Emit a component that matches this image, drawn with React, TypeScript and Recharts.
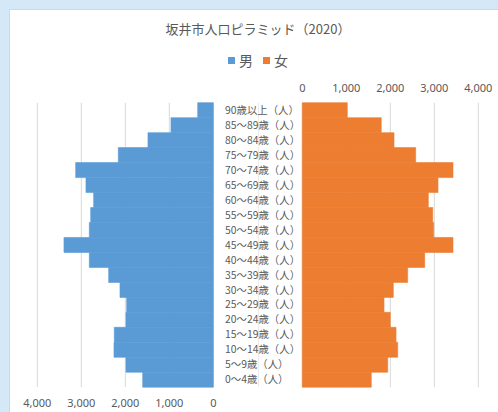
import React from "react";
import { BarChart, Bar, XAxis, YAxis, CartesianGrid } from "recharts";

// 年齢階級（上から90歳以上 → 0～4歳）
const ageGroups = [
  "90歳以上（人）",
  "85～89歳（人）",
  "80～84歳（人）",
  "75～79歳（人）",
  "70～74歳（人）",
  "65～69歳（人）",
  "60～64歳（人）",
  "55～59歳（人）",
  "50～54歳（人）",
  "45～49歳（人）",
  "40～44歳（人）",
  "35～39歳（人）",
  "30～34歳（人）",
  "25～29歳（人）",
  "20～24歳（人）",
  "15～19歳（人）",
  "10～14歳（人）",
  "5～9歳（人）",
  "0～4歳（人）",
];

const male = [
  355, 962, 1485, 2159, 3128, 2894, 2719, 2787, 2818, 3394, 2818, 2378, 2121,
  1969, 1985, 2250, 2257, 1985, 1605,
];

const female = [
  1023, 1795, 2084, 2577, 3425, 3084, 2864, 2964, 2986, 3425, 2782, 2395, 2068,
  1857, 2000, 2130, 2168, 1941, 1568,
];

const axisTicks = [0, 1000, 2000, 3000, 4000];

const data = ageGroups.map((age, i) => ({ age, male: male[i], female: female[i] }));

const W = 498;
const H = 412;
const TOP = 102.7;
const BOTTOM = 387.2;
const TEXT = "#595959";
const GRID = "#D9D9D9";
const BLUE = "#5B9BD5";
const ORANGE = "#ED7D31";
const FONT = "'Noto Sans CJK JP', 'Noto Sans', sans-serif";

const fmt = (v: number) => v.toLocaleString("en-US");

// 中央の年齢ラベル（左揃え）
const renderAgeTick = (props: any) => {
  const { y, payload } = props;
  return (
    <text
      key={payload.value}
      x={225}
      y={y}
      dy="0.35em"
      textAnchor="start"
      fill={TEXT}
      fontSize={10.4}
      fontFamily={FONT}
    >
      {payload.value}
    </text>
  );
};

export default function App() {
  return (
    <div
      style={{
        position: "fixed",
        left: 0,
        top: 0,
        width: W,
        height: H,
        background: "#D5E8F8",
        overflow: "hidden",
        fontFamily: FONT,
      }}
    >
      <div
        style={{
          position: "absolute",
          left: 9,
          top: 9,
          width: W,
          height: H,
          background: "#fff",
          borderLeft: "1px solid #C9D9E8",
          borderTop: "1px solid #C9D9E8",
        }}
      />
      <div
        style={{
          position: "absolute",
          left: 0,
          width: 516,
          top: 19,
          textAlign: "center",
          fontSize: 13,
          color: TEXT,
        }}
      >
        坂井市人口ピラミッド（2020）
      </div>
      <div
        style={{
          position: "absolute",
          left: 0,
          width: 516,
          top: 50,
          display: "flex",
          justifyContent: "center",
          alignItems: "center",
          fontSize: 14,
          color: TEXT,
        }}
      >
        <span style={{ width: 7, height: 7, background: BLUE, marginRight: 4 }} />
        <span style={{ marginRight: 10 }}>男</span>
        <span style={{ width: 7, height: 7, background: ORANGE, marginRight: 4 }} />
        <span>女</span>
      </div>
      <div
        style={{
          position: "absolute",
          left: 258,
          top: TOP,
          width: 1,
          height: BOTTOM - TOP,
          background: "#EBEBEB",
        }}
      />

      {/* 男性：右から左へ伸びる棒 */}
      <div style={{ position: "absolute", left: 0, top: 0 }}>
        <BarChart
          width={W}
          height={H}
          data={data}
          layout="vertical"
          barCategoryGap={0}
          margin={{ top: TOP, right: W - 213.3, bottom: H - BOTTOM - 20, left: 37.3 }}
        >
          <CartesianGrid horizontal={false} stroke={GRID} />
          <XAxis
            type="number"
            domain={[0, 4000]}
            ticks={axisTicks}
            reversed
            height={20}
            axisLine={false}
            tickLine={false}
            tickMargin={6}
            tickFormatter={fmt}
            tick={{ fill: TEXT, fontSize: 11, fontFamily: "'Noto Sans', sans-serif" }}
          />
          <YAxis type="category" dataKey="age" hide />
          <Bar
            dataKey="male"
            fill={BLUE}
            stroke={BLUE}
            strokeWidth={0.6}
            isAnimationActive={false}
          />
        </BarChart>
      </div>

      {/* 女性：左から右へ伸びる棒 */}
      <div style={{ position: "absolute", left: 0, top: 0 }}>
        <BarChart
          width={W}
          height={H}
          data={data}
          layout="vertical"
          barCategoryGap={0}
          margin={{ top: TOP - 30, right: W - 478.3, bottom: H - BOTTOM, left: 302.3 - 2 }}
        >
          <CartesianGrid horizontal={false} stroke={GRID} />
          <XAxis
            type="number"
            orientation="top"
            domain={[0, 4000]}
            ticks={axisTicks}
            height={30}
            axisLine={false}
            tickLine={false}
            tickMargin={5}
            tickFormatter={fmt}
            tick={{ fill: TEXT, fontSize: 11, fontFamily: "'Noto Sans', sans-serif" }}
          />
          <YAxis
            type="category"
            dataKey="age"
            width={2}
            axisLine={false}
            tickLine={false}
            interval={0}
            tick={renderAgeTick}
          />
          <Bar
            dataKey="female"
            fill={ORANGE}
            stroke={ORANGE}
            strokeWidth={0.6}
            isAnimationActive={false}
          />
        </BarChart>
      </div>
    </div>
  );
}
